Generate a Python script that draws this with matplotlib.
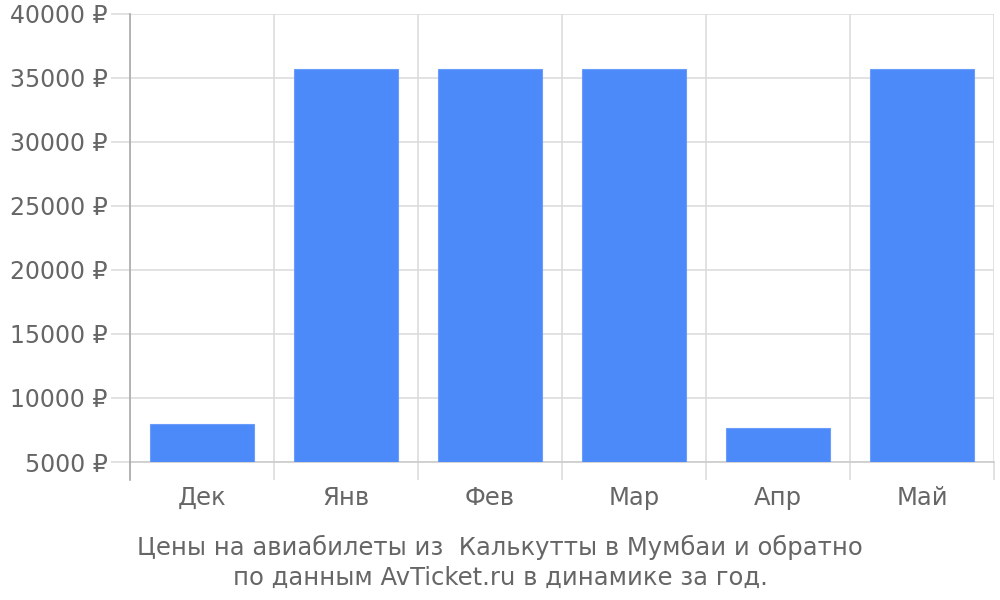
import matplotlib
matplotlib.use("Agg")
import matplotlib.pyplot as plt
import numpy as np

months = ["Дек", "Янв", "Фев", "Мар", "Апр", "Май"]
prices = [7970, 35700, 35700, 35700, 7660, 35700]
y_ticks = [5000, 10000, 15000, 20000, 25000, 30000, 35000, 40000]
title = "Цены на авиабилеты из  Калькутты в Мумбаи и обратно\nпо данным AvTicket.ru в динамике за год."

text_color = "#666666"
grid_color = "#dddddd"
bar_color = "#4d8af9"

plt.rcParams["font.family"] = ["DejaVu Sans"]

fig = plt.figure(figsize=(10, 6), dpi=100)
ax = fig.add_axes([0.13, 0.23, 0.864, 0.7467])

x = np.arange(len(months))
ax.bar(x, np.array(prices) - 5000, bottom=5000, width=0.72, color=bar_color,
       edgecolor="#6a9cfa", linewidth=0.8, zorder=3)

ax.set_xlim(-0.5, len(months) - 0.5)
ax.set_ylim(5000, 40000)

# category boundaries as major ticks (grid + long tick), labels on minor ticks
ax.set_xticks(np.arange(len(months) + 1) - 0.5)
ax.set_xticklabels([])
ax.set_xticks(x, minor=True)
ax.set_xticklabels(months, minor=True)
ax.tick_params(axis="x", which="major", length=13, width=1.2, color=grid_color)
ax.tick_params(axis="x", which="minor", length=0, pad=17, labelsize=17.5, labelcolor=text_color)

ax.set_yticks(y_ticks)
ax.set_yticklabels([f"{v} ₽" for v in y_ticks])
ax.tick_params(axis="y", length=14, width=1.2, color=grid_color, pad=2,
               labelsize=17, labelcolor=text_color)

ax.grid(True, which="major", color=grid_color, linewidth=1.2, zorder=0)
for side in ["top", "right"]:
    ax.spines[side].set_visible(False)
ax.spines["bottom"].set_color("#cccccc")
ax.spines["bottom"].set_linewidth(1.2)
ax.spines["left"].set_visible(False)
ax.plot([0, 0], [-18 / 448, 1], transform=ax.transAxes, color="#aaaaaa",
        linewidth=1.2, clip_on=False, zorder=4)

fig.text(0.5, 1 - 562 / 600, title, ha="center", va="center", fontsize=17.5,
         color=text_color, linespacing=1.3)

fig.savefig("out.png", dpi=100)
